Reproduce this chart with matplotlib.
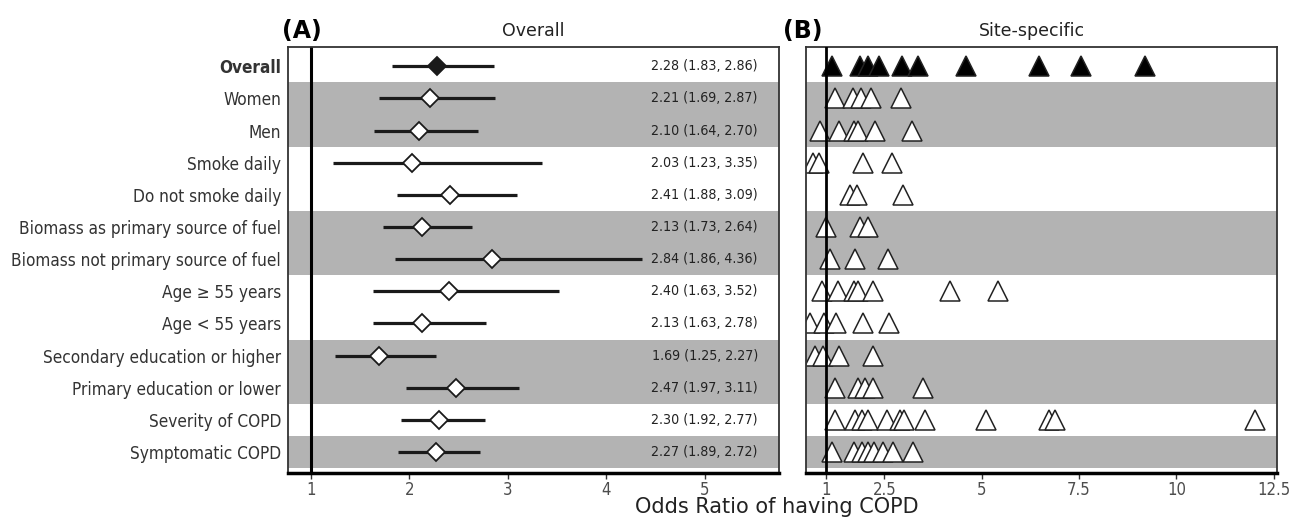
import matplotlib

matplotlib.use("Agg")
import matplotlib.pyplot as plt

# ---- data ----
labels = [
    "Overall", "Women", "Men", "Smoke daily", "Do not smoke daily",
    "Biomass as primary source of fuel", "Biomass not primary source of fuel",
    "Age \u2265 55 years", "Age < 55 years", "Secondary education or higher",
    "Primary education or lower", "Severity of COPD", "Symptomatic COPD",
]
or_est = [2.28, 2.21, 2.10, 2.03, 2.41, 2.13, 2.84, 2.40, 2.13, 1.69, 2.47, 2.30, 2.27]
ci_low = [1.83, 1.69, 1.64, 1.23, 1.88, 1.73, 1.86, 1.63, 1.63, 1.25, 1.97, 1.92, 1.89]
ci_high = [2.86, 2.87, 2.70, 3.35, 3.09, 2.64, 4.36, 3.52, 2.78, 2.27, 3.11, 2.77, 2.72]
shaded = [0, 1, 1, 0, 0, 1, 1, 0, 0, 1, 1, 0, 1]

site_or = [
    [1.15, 1.87, 2.09, 2.36, 2.96, 3.37, 4.59, 6.48, 7.55, 9.19],
    [1.23, 1.70, 1.90, 2.17, 2.93],
    [0.85, 1.34, 1.72, 1.82, 2.26, 3.22],
    [0.67, 0.83, 1.96, 2.71],
    [1.62, 1.80, 2.98],
    [1.00, 1.87, 2.09],
    [1.10, 1.76, 2.60],
    [0.89, 1.32, 1.73, 1.83, 2.20, 4.18, 5.41],
    [0.59, 0.95, 1.27, 1.96, 2.62],
    [0.72, 0.93, 1.33, 2.21],
    [1.23, 1.83, 2.00, 2.21, 3.50],
    [1.23, 1.74, 1.94, 2.09, 2.57, 2.90, 3.01, 3.54, 5.12, 6.73, 6.88, 12.01],
    [1.16, 1.73, 1.92, 2.09, 2.23, 2.47, 2.73, 3.24],
]

xticks_a = [1, 2, 3, 4, 5]
xticks_b = [1, 2.5, 5, 7.5, 10, 12.5]
xticklabels_b = ["1", "2.5", "5", "7.5", "10", "12.5"]

NARROW = dict(family="DejaVu Sans", stretch="condensed")
BAND = "#b3b3b3"

fig = plt.figure(figsize=(12.92, 5.18), dpi=100)
ax1 = fig.add_axes([0.2229, 0.0869, 0.380, 0.8224])
ax2 = fig.add_axes([0.6238, 0.0869, 0.3646, 0.8224])
rows = range(len(labels))

for ax in (ax1, ax2):
    for i in rows:
        if shaded[i]:
            ax.axhspan(i - 0.5, i + 0.5, color=BAND, lw=0, zorder=0)
    ax.set_ylim(12.65, -0.6)
    for s in ax.spines.values():
        s.set_color("#333333")
        s.set_linewidth(1.3)
    ax.spines["bottom"].set_color("black")
    ax.spines["bottom"].set_linewidth(2.5)
    ax.tick_params(axis="x", length=4, width=1, color="#333333",
                   labelcolor="#4d4d4d", labelsize=12, pad=2)
    ax.tick_params(axis="y", length=0)

# ---- panel A: pooled estimates ----
ax1.axvline(1, color="black", lw=2.2, zorder=1)
for i in rows:
    ax1.plot([ci_low[i], ci_high[i]], [i, i], color="#1a1a1a", lw=2.3,
             solid_capstyle="butt", zorder=2)
    ax1.plot(or_est[i], i, marker="D", markersize=9,
             markerfacecolor="#1a1a1a" if i == 0 else "white",
             markeredgecolor="#1a1a1a", markeredgewidth=1.3, zorder=3)
    ax1.text(0.957, i, f"{or_est[i]:.2f} ({ci_low[i]:.2f}, {ci_high[i]:.2f})",
             transform=ax1.get_yaxis_transform(), ha="right", va="center",
             fontsize=10.2, color="#222222", **NARROW)
ax1.set_xlim(0.77, 5.75)
ax1.set_xticks(xticks_a)
ax1.set_yticks(list(rows))
ax1.set_yticklabels(labels, fontsize=12.3, color="#333333", **NARROW)
ax1.tick_params(axis="y", pad=5)
ax1.get_yticklabels()[0].set_fontweight("bold")

# ---- panel B: site-specific estimates ----
for i in rows:
    ax2.plot(site_or[i], [i] * len(site_or[i]), linestyle="none", marker="^",
             markersize=14.5, markerfacecolor="black" if i == 0 else "white",
             markeredgecolor="#222222", markeredgewidth=1.1, zorder=2)
ax2.axvline(1, color="black", lw=2.0, zorder=3)
ax2.set_xlim(0.49, 12.58)
ax2.set_xticks(xticks_b)
ax2.set_xticklabels(xticklabels_b)
ax2.set_yticks([])

for ax in (ax1, ax2):
    for t in ax.get_xticklabels():
        t.set_fontstretch("condensed")

# ---- titles / labels ----
fig.text(282 / 1292, 1 - 31 / 518, "(A)", fontsize=17, fontweight="bold",
         ha="left", va="center")
fig.text(783 / 1292, 1 - 31 / 518, "(B)", fontsize=17, fontweight="bold",
         ha="left", va="center")
ax1.set_title("Overall", fontsize=12.5, color="#222222", pad=8)
ax2.text(0.48, 1.0 + 16 / 426, "Site-specific", transform=ax2.transAxes,
         fontsize=12.5, color="#222222", ha="center", va="center")
fig.text(777 / 1292, 1 - 507 / 518, "Odds Ratio of having COPD", fontsize=15,
         ha="center", va="center", color="#222222")

fig.savefig("out.png", dpi=100)
